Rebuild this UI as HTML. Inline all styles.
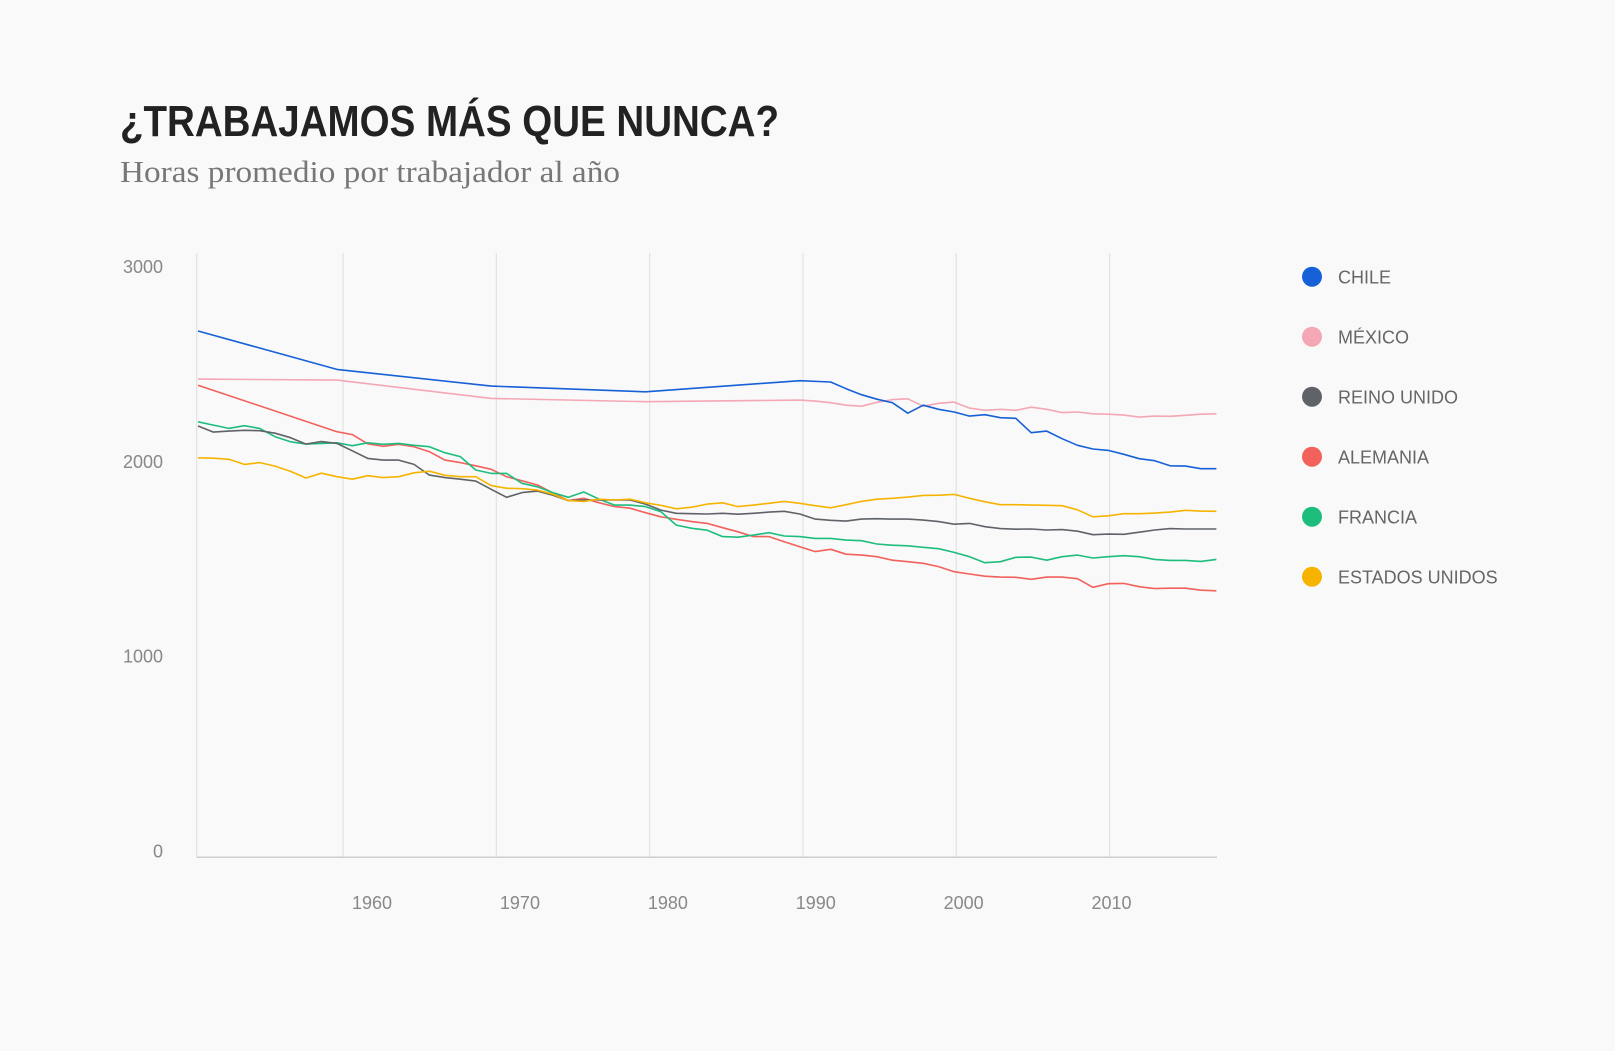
<!DOCTYPE html>
<html><head><meta charset="utf-8"><style>
html,body{margin:0;padding:0;background:#f9f9f9;}
svg{display:block;font-family:"Liberation Sans",sans-serif;}
</style></head><body>
<svg id="chart" width="1615" height="1051" viewBox="0 0 1615 1051">
<rect width="1615" height="1051" fill="#f9f9f9"/>
<text x="120" y="136" font-size="44" font-weight="bold" fill="#222" textLength="659" lengthAdjust="spacingAndGlyphs">¿TRABAJAMOS MÁS QUE NUNCA?</text>
<text x="120" y="182" font-size="31" fill="#777" style="font-family:'Liberation Serif',serif" textLength="500" lengthAdjust="spacingAndGlyphs">Horas promedio por trabajador al año</text>
<g id="grid"></g>
<g id="lines"></g>
<g id="legend"></g>
</svg>
<script>
const yTicks=[0,1000,2000,3000];
const xTicks=[1960,1970,1980,1990,2000,2010];
const chileYears=[1951,1960,1970,1980,1990,1992,1993,1994,1995,1996,1997,1998,1999,2000,2001,2002,2003,2004,2005,2006,2007,2008,2009,2010,2011,2012,2013,2014,2015,2016,2017];
const chileVals=[2703,2506,2420,2391,2448,2441,2407,2376,2353,2335,2281,2322,2301,2287,2266,2273,2258,2255,2181,2189,2150,2116,2097,2090,2070,2047,2037,2011,2009,1996,1996];
const mexicoYears=[1951,1960,1970,1980,1990,1991,1992,1993,1994,1995,1996,1997,1998,1999,2000,2001,2002,2003,2004,2005,2006,2007,2008,2009,2010,2011,2012,2013,2014,2015,2016,2017];
const mexicoVals=[2456,2451,2357,2340,2348,2343,2335,2322,2317,2337,2351,2355,2317,2332,2338,2307,2296,2301,2296,2312,2301,2284,2287,2278,2276,2271,2261,2266,2265,2270,2276,2278];
const germanyYears=[1951,1960,1961,1962,1963,1964,1965,1966,1967,1968,1969,1970,1971,1972,1973,1974,1975,1976,1977,1978,1979,1980,1981,1982,1983,1984,1985,1986,1987,1988,1989,1990,1991,1992,1993,1994,1995,1996,1997,1998,1999,2000,2001,2002,2003,2004,2005,2006,2007,2008,2009,2010,2011,2012,2013,2014,2015,2016,2017];
const germanyVals=[2425,2186,2171,2124,2111,2121,2109,2083,2040,2027,2011,1993,1955,1934,1912,1871,1832,1844,1821,1801,1793,1770,1749,1736,1724,1715,1693,1672,1647,1647,1621,1595,1570,1582,1557,1552,1544,1526,1518,1510,1493,1467,1455,1444,1439,1438,1428,1439,1439,1431,1387,1405,1407,1390,1380,1382,1382,1372,1369];
const annualStart=1951;
const franceVals=[2237,2220,2203,2217,2203,2160,2134,2122,2126,2129,2114,2129,2121,2126,2116,2109,2078,2058,1989,1972,1972,1921,1903,1873,1849,1876,1839,1809,1809,1801,1775,1706,1690,1680,1647,1644,1655,1667,1650,1647,1638,1638,1629,1626,1609,1603,1600,1592,1585,1566,1544,1513,1518,1541,1542,1526,1544,1552,1537,1544,1549,1544,1530,1525,1525,1520,1530];
const ukVals=[2215,2184,2189,2193,2191,2178,2155,2122,2135,2126,2088,2049,2040,2040,2018,1963,1950,1942,1932,1890,1849,1873,1881,1860,1832,1835,1835,1835,1835,1814,1783,1767,1765,1763,1767,1762,1767,1773,1777,1763,1737,1731,1727,1737,1739,1737,1737,1732,1724,1711,1715,1698,1688,1685,1686,1681,1683,1675,1657,1660,1659,1670,1681,1688,1686,1686,1686];
const usaVals=[2052,2050,2044,2018,2027,2009,1982,1948,1973,1955,1942,1960,1950,1955,1975,1983,1962,1955,1955,1909,1895,1893,1886,1865,1832,1828,1839,1835,1839,1821,1808,1790,1798,1814,1821,1801,1809,1818,1828,1818,1806,1795,1811,1828,1839,1844,1850,1859,1860,1864,1844,1826,1811,1811,1809,1808,1806,1785,1749,1754,1765,1765,1768,1773,1782,1778,1777];
const seriesNames=["CHILE","MÉXICO","REINO UNIDO","ALEMANIA","FRANCIA","ESTADOS UNIDOS"];
const seriesColors=["#1660d8","#f4a7b5","#5f6368","#f2615c","#1dbd7e","#f6b400"];

const NS="http://www.w3.org/2000/svg";
function x(yr){return 198+(yr-1951)*15.43;}
function y(v){return 857.3-v*0.1947;}
function tickX(t){return x(1960+(t-1960)*0.9935+0.4);}
function mk(tag,attrs,parent){const e=document.createElementNS(NS,tag);for(const k in attrs)e.setAttribute(k,attrs[k]);parent.appendChild(e);return e;}
const grid=document.getElementById('grid');
xTicks.forEach(t=>{
  const gx=tickX(t);
  const l=mk('line',{x1:gx,x2:gx,y1:253,y2:857.3,stroke:'#e2e2e2','stroke-width':1.2},grid);
  
  
  const tx=mk('text',{x:gx+29-(t-1960)*0.54,y:909,'font-size':18,fill:'#888','text-anchor':'middle'},grid);
  tx.textContent=t;
  
  
});
const yax=mk('line',{x1:196.7,x2:196.7,y1:253,y2:857.3,stroke:'#e2e2e2','stroke-width':1.2},grid);


const xax=mk('line',{x1:196.7,x2:1217,y1:857.3,y2:857.3,stroke:'#cfcfcf','stroke-width':1.5},grid);


yTicks.forEach(t=>{
  const tx=mk('text',{x:163,y:y(t),'font-size':18,fill:'#888','text-anchor':'end'},grid);
  tx.textContent=t;
  
  
});
function annualYears(vals){return vals.map((v,i)=>annualStart+i);}
const seriesData=[[chileYears,chileVals],[mexicoYears,mexicoVals],[annualYears(ukVals),ukVals],[germanyYears,germanyVals],[annualYears(franceVals),franceVals],[annualYears(usaVals),usaVals]];
const drawOrder=[1,0,3,4,2,5];
const lines=document.getElementById('lines');
drawOrder.forEach(i=>{
  const [ys,vs]=seriesData[i];
  const pts=vs.map((v,k)=>x(ys[k]).toFixed(1)+','+y(v).toFixed(1)).join(' ');
  const p=mk('polyline',{points:pts,fill:'none',stroke:seriesColors[i],'stroke-width':1.6,'stroke-linejoin':'round'},lines);
  
  
});
const legend=document.getElementById('legend');
seriesNames.forEach((n,i)=>{
  const cy=276.7+i*60;
  const c=mk('circle',{cx:1312,cy:cy,r:10,fill:seriesColors[i]},legend);
  
  
  const t=mk('text',{x:1338,y:cy+7,'font-size':18,fill:'#666'},legend);
  t.textContent=n;
  
  
});
</script>
</body></html>
